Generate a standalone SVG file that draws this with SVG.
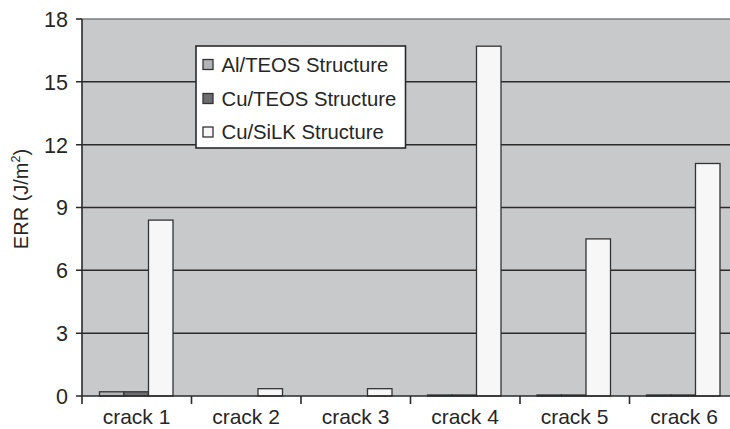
<svg xmlns="http://www.w3.org/2000/svg" width="730" height="429" viewBox="0 0 730 429">
<style>
.t{font-family:"Liberation Sans",Arial,sans-serif;fill:#262626}
.tick{font-size:21.5px;text-anchor:end}
.cat{font-size:21px;text-anchor:middle}
.leg{font-size:20.3px}
.grid{stroke:#2a2a2a;stroke-width:1.6;fill:none}
.ax{stroke:#2a2a2a;stroke-width:1.6;fill:none}
.bar{stroke:#333;stroke-width:1.3}
.al{fill:#b3b4b7}
.cu{fill:#6d6d6f}
.sk{fill:#f7f7f7}
</style>
<rect width="730" height="429" fill="#ffffff"/>
<g id="plot-area">
<rect x="82" y="19" width="660" height="377" fill="#c8c9cb"/>
<line x1="82" y1="19" x2="730" y2="19" stroke="#7a7a7a" stroke-width="1.5"/>
</g>
<g id="gridlines">
<line class="grid" x1="76" y1="81.8" x2="730" y2="81.8"/>
<line class="grid" x1="76" y1="144.7" x2="730" y2="144.7"/>
<line class="grid" x1="76" y1="207.5" x2="730" y2="207.5"/>
<line class="grid" x1="76" y1="270.3" x2="730" y2="270.3"/>
<line class="grid" x1="76" y1="333.2" x2="730" y2="333.2"/>
<line class="ax" x1="76" y1="19" x2="82" y2="19"/>
</g>
<g id="connectors"></g>
<g id="bars">
<g id="crack1">
<rect class="bar al" x="99.5" y="391.8" width="24.5" height="4.2"/>
<rect class="bar cu" x="124" y="391.8" width="24.5" height="4.2"/>
<rect class="bar sk" x="148.5" y="220.1" width="24.5" height="175.9"/>
</g>
<g id="crack2">
<rect class="bar sk" x="258" y="388.7" width="24.5" height="7.3"/>
</g>
<g id="crack3">
<rect class="bar sk" x="367.5" y="388.7" width="24.5" height="7.3"/>
</g>
<g id="crack4">
<rect class="bar al" x="427.5" y="395" width="24.5" height="1"/>
<rect class="bar cu" x="452" y="395" width="24.5" height="1"/>
<rect class="bar sk" x="476.5" y="46.2" width="24.5" height="349.8"/>
</g>
<g id="crack5">
<rect class="bar al" x="537" y="395" width="24.5" height="1"/>
<rect class="bar cu" x="561.5" y="395" width="24.5" height="1"/>
<rect class="bar sk" x="586" y="238.9" width="24.5" height="157.1"/>
</g>
<g id="crack6">
<rect class="bar al" x="646.5" y="395" width="24.5" height="1"/>
<rect class="bar cu" x="671" y="395" width="24.5" height="1"/>
<rect class="bar sk" x="695.5" y="163.5" width="24.5" height="232.5"/>
</g>
</g>
<g id="axes">
<line class="ax" x1="82" y1="19" x2="82" y2="404"/>
<line class="ax" x1="76" y1="396" x2="730" y2="396"/>
<line class="ax" x1="191.5" y1="396" x2="191.5" y2="404"/>
<line class="ax" x1="301" y1="396" x2="301" y2="404"/>
<line class="ax" x1="410.5" y1="396" x2="410.5" y2="404"/>
<line class="ax" x1="520" y1="396" x2="520" y2="404"/>
<line class="ax" x1="629.5" y1="396" x2="629.5" y2="404"/>
</g>
<g id="y-labels">
<text class="t tick" x="68" y="26.8">18</text>
<text class="t tick" x="68" y="89.6">15</text>
<text class="t tick" x="68" y="152.5">12</text>
<text class="t tick" x="68" y="215.3">9</text>
<text class="t tick" x="68" y="278.1">6</text>
<text class="t tick" x="68" y="341">3</text>
<text class="t tick" x="68" y="403.8">0</text>
</g>
<g id="x-labels">
<text class="t cat" x="136.5" y="424">crack 1</text>
<text class="t cat" x="246" y="424">crack 2</text>
<text class="t cat" x="355.5" y="424">crack 3</text>
<text class="t cat" x="465" y="424">crack 4</text>
<text class="t cat" x="574.5" y="424">crack 5</text>
<text class="t cat" x="684" y="424">crack 6</text>
</g>
<g id="y-title">
<text class="t" font-size="20" text-anchor="middle" transform="translate(27.5,199) rotate(-90)">ERR (J/m<tspan font-size="12.5" dy="-7.5">2</tspan><tspan dy="7.5">)</tspan></text>
</g>
<g id="legend">
<rect x="196" y="46" width="209.5" height="102" fill="#ffffff" stroke="#2a2a2a" stroke-width="1.6"/>
<rect class="bar al" x="203" y="59.5" width="10" height="10"/>
<rect class="bar cu" x="203" y="93.5" width="10" height="10"/>
<rect class="bar sk" x="203" y="127" width="10" height="10"/>
<text class="t leg" x="221.5" y="71.8">Al/TEOS Structure</text>
<text class="t leg" x="221.5" y="105.8">Cu/TEOS Structure</text>
<text class="t leg" x="221.5" y="139.2">Cu/SiLK Structure</text>
</g>
</svg>
